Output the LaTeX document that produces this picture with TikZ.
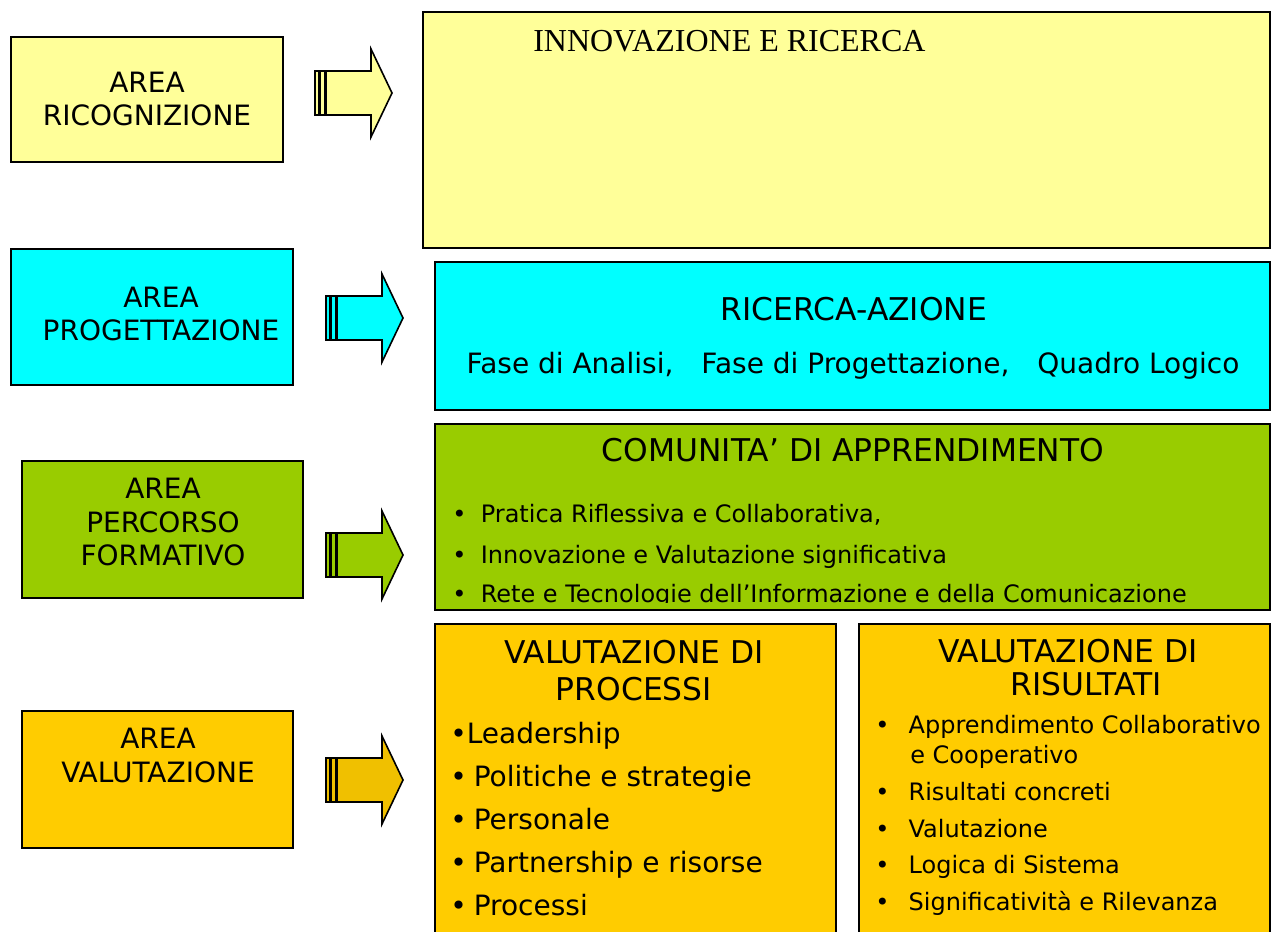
\documentclass[tikz,border=0pt]{standalone}
\usepackage{fontspec}
\setmainfont{DejaVu Sans}
\newfontfamily\serifT{Liberation Serif}
\usetikzlibrary{fit}
\definecolor{cYel}{HTML}{FFFF99}
\definecolor{cCyan}{HTML}{00FFFF}
\definecolor{cGreen}{HTML}{99CC00}
\definecolor{cOrange}{HTML}{FFCC00}
\definecolor{cOrangeArr}{HTML}{F0C000}
\tikzset{
  box/.style={draw=black, line width=1.5pt, inner sep=0pt, rectangle},
  arrowline/.style={draw=black, line width=1.2pt, line join=miter},
  lbl/.style={font=\fontsize{21}{25}\selectfont, anchor=base, inner sep=0pt},
  ttl/.style={font=\fontsize{23.5}{28}\selectfont, anchor=base, inner sep=0pt},
  sub/.style={font=\fontsize{21}{25}\selectfont, anchor=base, inner sep=0pt},
  cbul/.style={font=\fontsize{18}{22}\selectfont, anchor=base west, inner sep=0pt},
  pbul/.style={font=\fontsize{21}{25}\selectfont, anchor=base west, inner sep=0pt},
  rbul/.style={font=\fontsize{18}{22}\selectfont, anchor=base west, inner sep=0pt},
}
\newcommand{\stripedarrow}[3]{%
  \begin{scope}[shift={(#1,#2)}]
    \filldraw[arrowline, fill=#3] (0,-22) rectangle (3.5,22);
    \filldraw[arrowline, fill=#3] (5,-22) rectangle (9.5,22);
    \filldraw[arrowline, fill=#3] (11,-22) -- (56,-22) -- (56,-44) -- (77,0)
      -- (56,44) -- (56,22) -- (11,22) -- cycle;
  \end{scope}}
\begin{document}
\begin{tikzpicture}[x=0.75pt, y=-0.75pt]
\clip (0,0) rectangle (1272,932);
\fill[white] (0,0) rectangle (1272,932);

% ---------- boxes ----------
\node[box, fill=cYel,    fit={(11,37) (283,162)}]    (ricBox) {};
\node[box, fill=cYel,    fit={(423,12) (1270,248)}]  (innBox) {};
\node[box, fill=cCyan,   fit={(11,249) (293,385)}]   (progBox) {};
\node[box, fill=cCyan,   fit={(435,262) (1270,410)}] (raBox) {};
\node[box, fill=cGreen,  fit={(22,461) (303,598)}]   (percBox) {};
\node[box, fill=cGreen,  fit={(435,424) (1270,610)}] (comBox) {};
\node[box, fill=cOrange, fit={(22,711) (293,848)}]   (valBox) {};
\node[box, fill=cOrange, fit={(435,624) (836,945)}]  (procBox) {};
\node[box, fill=cOrange, fit={(859,624) (1270,945)}] (risBox) {};

% ---------- arrows ----------
\stripedarrow{315}{93}{cYel}
\stripedarrow{326}{318}{cCyan}
\stripedarrow{326}{555}{cGreen}
\stripedarrow{326}{780}{cOrangeArr}

% ---------- left labels ----------
\node[lbl] (ric1) at (147,92)  {AREA};
\node[lbl] (ric2) at (147,125) {RICOGNIZIONE};
\node[lbl] (prg1) at (161,307) {AREA};
\node[lbl] (prg2) at (161,340) {PROGETTAZIONE};
\node[lbl] (per1) at (163,498) {AREA};
\node[lbl] (per2) at (163,532) {PERCORSO};
\node[lbl] (per3) at (163,565) {FORMATIVO};
\node[lbl] (val1) at (158,748) {AREA};
\node[lbl] (val2) at (158,782) {VALUTAZIONE};

% ---------- innovazione ----------
\node[font=\serifT\fontsize{24}{28}\selectfont, anchor=base west, inner sep=0pt]
  (innT) at (533,51) {INNOVAZIONE E RICERCA};

% ---------- ricerca-azione ----------
\node[ttl] (raT) at (854,320) {RICERCA-AZIONE};
\node[sub] (raS) at (853,373) {Fase di Analisi,\hspace{1em}Fase di Progettazione,\hspace{1em}Quadro Logico};

% ---------- comunita ----------
\node[ttl] (comT) at (853,461) {COMUNITA’ DI APPRENDIMENTO};
\node[cbul] (com1) at (452,522) {•\hspace{0.6em}Pratica Riflessiva e Collaborativa,};
\node[cbul] (com2) at (452,563) {•\hspace{0.6em}Innovazione e Valutazione significativa};
\begin{scope}
  \clip (436,424) rectangle (1269,602);
  \node[cbul] (com3) at (452,602) {•\hspace{0.6em}Rete e Tecnologie dell’Informazione e della Comunicazione};
\end{scope}

% ---------- valutazione di processi ----------
\node[ttl] (prT1) at (634,663) {VALUTAZIONE DI};
\node[ttl] (prT2) at (634,700) {PROCESSI};
\node[pbul] (pr1) at (450,743) {•Leadership};
\node[pbul] (pr2) at (450,786) {•\hspace{0.25em}Politiche e strategie};
\node[pbul] (pr3) at (450,829) {•\hspace{0.25em}Personale};
\node[pbul] (pr4) at (450,872) {•\hspace{0.25em}Partnership e risorse};
\node[pbul] (pr5) at (450,915) {•\hspace{0.25em}Processi};

% ---------- valutazione di risultati ----------
\node[ttl] (riT1) at (1068,662) {VALUTAZIONE DI};
\node[ttl] (riT2) at (1086,695) {RISULTATI};
\node[rbul] (ri1) at (875,733) {•\hspace{0.8em}Apprendimento Collaborativo};
\node[rbul, anchor=base west] (ri1b) at (910,763) {e Cooperativo};
\node[rbul] (ri2) at (875,800) {•\hspace{0.8em}Risultati concreti};
\node[rbul] (ri3) at (875,837) {•\hspace{0.8em}Valutazione};
\node[rbul] (ri4) at (875,873) {•\hspace{0.8em}Logica di Sistema};
\node[rbul] (ri5) at (875,910) {•\hspace{0.8em}Significatività e Rilevanza};
\end{tikzpicture}
\end{document}
